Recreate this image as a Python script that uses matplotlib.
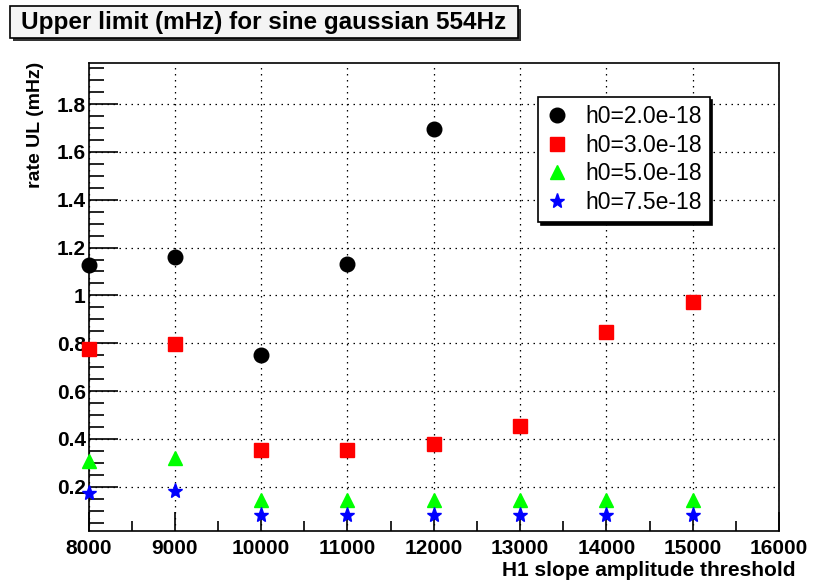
import matplotlib
matplotlib.use('Agg')
import matplotlib.pyplot as plt
from matplotlib.patches import Rectangle
from matplotlib.ticker import MultipleLocator

# --- data ---
thresholds = [8000, 9000, 10000, 11000, 12000, 13000, 14000, 15000]
labels = ['h0=2.0e-18', 'h0=3.0e-18', 'h0=5.0e-18', 'h0=7.5e-18']
ul_h0_20 = [1.128, 1.162, 0.752, 1.132, 1.695]
ul_h0_30 = [0.775, 0.796, 0.355, 0.355, 0.38, 0.456, 0.847, 0.973]
ul_h0_50 = [0.309, 0.32, 0.145, 0.145, 0.145, 0.145, 0.145, 0.145]
ul_h0_75 = [0.175, 0.183, 0.082, 0.082, 0.082, 0.082, 0.082, 0.082]

W, H = 814, 583
fig = plt.figure(figsize=(W / 100, H / 100), dpi=100)
fig.patch.set_facecolor('white')

# axes frame in pixel terms
left, right, top, bottom = 88.5, 779, 62.7, 531
ax = fig.add_axes([left / W, 1 - bottom / H, (right - left) / W, (bottom - top) / H])

ax.plot(thresholds[:len(ul_h0_20)], ul_h0_20, 'o', color='black', ms=10.5,
        label=labels[0], clip_on=False, zorder=5)
ax.plot(thresholds, ul_h0_30, 's', color='red', ms=10, mec='red',
        label=labels[1], clip_on=False, zorder=5)
ax.plot(thresholds, ul_h0_50, '^', color='#00ff00', ms=10, mec='#00ff00',
        label=labels[2], clip_on=False, zorder=5)
ax.plot(thresholds, ul_h0_75, '*', color='blue', ms=11, mec='blue',
        label=labels[3], clip_on=False, zorder=5)

ax.set_xlim(8000, 16000)
ax.set_ylim(0.015, 1.973)
ax.xaxis.set_major_locator(MultipleLocator(1000))
ax.xaxis.set_minor_locator(MultipleLocator(500))
ax.yaxis.set_major_locator(MultipleLocator(0.2))
ax.yaxis.set_minor_locator(MultipleLocator(0.05))

ax.yaxis.set_major_formatter(plt.FuncFormatter(lambda v, p: ('%g' % round(v, 2))))

ax.tick_params(axis='x', which='major', direction='in', length=14, width=1.2,
               pad=6, labelsize=15, top=False)
ax.tick_params(axis='x', which='minor', direction='in', length=7, width=1.2, top=False)
ax.tick_params(axis='y', which='major', direction='in', length=21, width=1.2,
               pad=2, labelsize=15, right=False)
ax.tick_params(axis='y', which='minor', direction='in', length=11, width=1.2, right=False)
for lab in ax.get_xticklabels() + ax.get_yticklabels():
    lab.set_fontweight('bold')
    lab.set_fontfamily('Liberation Sans')

for s in ax.spines.values():
    s.set_color('black')
    s.set_linewidth(1.2)

ax.set_axisbelow(True)
ax.grid(True, which='major', color='black', linewidth=0.9,
        linestyle=(0, (1.2, 3.6)))

# title box with shadow (ROOT style)
tx0, ty0, tx1, ty1 = 10, 6, 518, 38
fig.patches.append(Rectangle(((tx0 + 3) / W, 1 - (ty1 + 3) / H), (tx1 - tx0) / W,
                             (ty1 - ty0) / H, transform=fig.transFigure,
                             facecolor='#333333', edgecolor='none', zorder=1))
fig.patches.append(Rectangle((tx0 / W, 1 - ty1 / H), (tx1 - tx0) / W,
                             (ty1 - ty0) / H, transform=fig.transFigure,
                             facecolor='#f4f4f4', edgecolor='black', lw=1.2, zorder=2))
fig.text((tx0 + tx1) / 2 / W, 1 - (ty0 + ty1) / 2 / H,
         'Upper limit (mHz) for sine gaussian 554Hz', ha='center', va='center',
         fontsize=17.5, fontweight='bold', family='Liberation Sans', zorder=3)

# axis titles
fig.text(35 / W, 1 - 62 / H, 'rate UL (mHz)', rotation=90, ha='center', va='top',
         fontsize=14, fontweight='bold', family='Liberation Sans')
fig.text(795 / W, 1 - 571 / H, 'H1 slope amplitude threshold', ha='right',
         va='center', fontsize=15, fontweight='bold', family='Liberation Sans')

# legend
leg = ax.legend(loc='upper left', bbox_to_anchor=(538 / W, 1 - 97 / H),
                bbox_transform=fig.transFigure, borderaxespad=0,
                frameon=True, fancybox=False, edgecolor='black', framealpha=1,
                shadow={'color': 'black', 'alpha': 1},
                prop={'family': 'Liberation Sans', 'size': 16.5},
                handlelength=1.0, handletextpad=0.7, labelspacing=0.25,
                borderpad=0.35, numpoints=1)
leg.get_frame().set_linewidth(1.2)

fig.savefig('out.png', dpi=100)
